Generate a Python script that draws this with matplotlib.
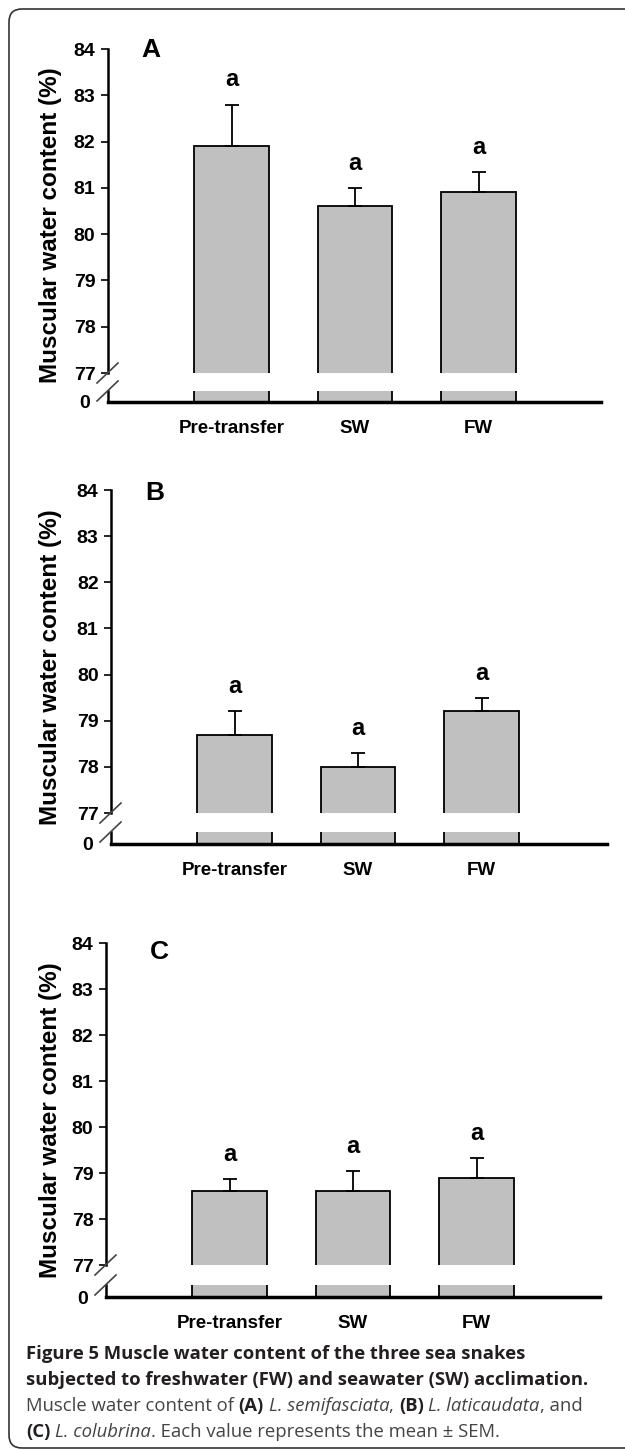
import matplotlib
matplotlib.use('Agg')
import matplotlib.pyplot as plt
from matplotlib.patches import FancyBboxPatch
from matplotlib.lines import Line2D
from matplotlib.transforms import IdentityTransform

# ---------------- data ----------------
categories = ['Pre-transfer', 'SW', 'FW']
panel_labels = ['A', 'B', 'C']
means_A = [81.9, 80.6, 80.9]
sem_A = [0.9, 0.4, 0.45]
means_B = [78.7, 78.0, 79.2]
sem_B = [0.5, 0.3, 0.3]
means_C = [78.6, 78.6, 78.9]
sem_C = [0.27, 0.45, 0.43]
letters_A = ['a', 'a', 'a']
letters_B = ['a', 'a', 'a']
letters_C = ['a', 'a', 'a']
upper_ticks = [77, 78, 79, 80, 81, 82, 83, 84]
lower_ticks = [0]
ylabel_text = 'Muscular water content (%)'
caption_line1 = 'Figure 5 Muscle water content of the three sea snakes'
caption_line2 = 'subjected to freshwater (FW) and seawater (SW) acclimation.'
caption_line3 = [('Muscle water content of ', 'normal', 'normal'), ('(A)', 'bold', 'normal'),
                 (' ', 'normal', 'normal'), ('L. semifasciata', 'normal', 'italic'),
                 (', ', 'normal', 'normal'), ('(B)', 'bold', 'normal'), (' ', 'normal', 'normal'),
                 ('L. laticaudata', 'normal', 'italic'), (', and', 'normal', 'normal')]
caption_line4 = [('(C)', 'bold', 'normal'), (' ', 'normal', 'normal'),
                 ('L. colubrina', 'normal', 'italic'),
                 ('. Each value represents the mean \u00b1 SEM.', 'normal', 'normal')]

# ---------------- layout ----------------
W, H = 625, 1449
fig = plt.figure(figsize=(W / 100, H / 100), dpi=100)
fig.patch.set_facecolor('white')

FONT = 'Liberation Sans'
CAPFONT = 'Open Sans'
BAR_COLOR = '#c0c0c0'
SPACING = 123.5

def fx(px):
    return px / W

def fy(py):
    return 1 - py / H

panels = [
    dict(ax_x=108, right=601, y84=49, y77=373, yseg=391, yzero=402, lab=(141, 57),
         means=means_A, sem=sem_A, letters=letters_A),
    dict(ax_x=111, right=607, y84=490, y77=813, yseg=832, yzero=844, lab=(145, 500),
         means=means_B, sem=sem_B, letters=letters_B),
    dict(ax_x=106, right=600, y84=943, y77=1265, yseg=1285, yzero=1297, lab=(150, 959),
         means=means_C, sem=sem_C, letters=letters_C),
]

for p, plabel in zip(panels, panel_labels):
    x = list(range(len(categories)))
    width_frac = fx(p['right']) - fx(p['ax_x'])
    xmax = (p['right'] - p['ax_x']) / SPACING - 1

    # upper (broken) axis
    ax1 = fig.add_axes([fx(p['ax_x']), fy(p['y77']), width_frac, (p['y77'] - p['y84']) / H])
    ax1.set_ylim(upper_ticks[0], upper_ticks[-1])
    ax1.set_xlim(-1, xmax)
    ax1.bar(x, p['means'], width=0.6, color=BAR_COLOR, edgecolor='black', linewidth=1.3, zorder=2)
    ax1.errorbar(x, p['means'], yerr=[[0] * len(x), p['sem']], fmt='none', ecolor='black',
                 elinewidth=1.3, capsize=5, capthick=1.3, zorder=3)
    for xi, m, s, l in zip(x, p['means'], p['sem'], p['letters']):
        ax1.annotate(l, (xi, m + s), xytext=(0, 13), textcoords='offset points',
                     ha='center', va='baseline', fontsize=17, fontweight='bold', family=FONT)
    for side in ['top', 'right', 'bottom']:
        ax1.spines[side].set_visible(False)
    ax1.spines['left'].set_linewidth(1.8)
    ax1.set_yticks(upper_ticks, labels=[str(t) for t in upper_ticks],
                   fontsize=14, fontweight='bold', family=FONT)
    ax1.set_xticks([])
    ax1.tick_params(axis='y', direction='out', length=5, width=1.2, pad=4)
    ax1.patch.set_alpha(0)

    # lower axis (0 segment)
    ax2 = fig.add_axes([fx(p['ax_x']), fy(p['yzero']), width_frac, (p['yzero'] - p['yseg']) / H])
    ax2.set_ylim(0, 1)
    ax2.set_xlim(-1, xmax)
    ax2.bar(x, p['means'], width=0.6, color=BAR_COLOR, edgecolor='black', linewidth=1.3, zorder=2)
    for side in ['top', 'right']:
        ax2.spines[side].set_visible(False)
    ax2.spines['left'].set_linewidth(1.8)
    ax2.spines['bottom'].set_linewidth(2.5)
    ax2.set_yticks(lower_ticks, labels=[str(t) for t in lower_ticks],
                   fontsize=14, fontweight='bold', family=FONT)
    ax2.tick_params(axis='y', direction='out', length=0, pad=13)
    ax2.set_xticks(x, labels=categories, fontsize=13.5, fontweight='bold', family=FONT)
    ax2.tick_params(axis='x', length=0, pad=13)
    ax2.patch.set_alpha(0)

    # break marks
    for yc in (p['y77'], p['yseg']):
        fig.add_artist(Line2D([p['ax_x'] - 11, p['ax_x'] + 10],
                              [H - (yc + 10), H - (yc - 10)],
                              transform=IdentityTransform(), color='#444444', lw=1.2))

    # panel label
    fig.text(fx(p['lab'][0]), fy(p['lab'][1]), plabel, fontsize=19, fontweight='bold',
             family=FONT, ha='left', va='baseline')
    # y label
    fig.text(fx(51), fy((p['y84'] + p['yzero']) / 2), ylabel_text, rotation=90,
             fontsize=17.5, fontweight='bold', family=FONT, ha='center', va='center')

# ---------------- border ----------------
border = FancyBboxPatch((9, 1), 640, H - 9 - 1, boxstyle='round,pad=0,rounding_size=13',
                        transform=IdentityTransform(), facecolor='none',
                        edgecolor='#333333', linewidth=1.2)
fig.add_artist(border)

# ---------------- caption ----------------
renderer = fig.canvas.get_renderer()

def advance(s, size, weight, style):
    t1 = fig.text(0, 0, '|' + s + '|', fontsize=size, fontweight=weight, fontstyle=style, family=CAPFONT)
    t2 = fig.text(0, 0, '||', fontsize=size, fontweight=weight, fontstyle=style, family=CAPFONT)
    w = t1.get_window_extent(renderer).width - t2.get_window_extent(renderer).width
    t1.remove()
    t2.remove()
    return w

cap_size = 13.3
x0 = 26
fig.text(fx(x0), fy(1359), caption_line1, fontsize=cap_size, fontweight='bold',
         family=CAPFONT, color='#231f20', ha='left', va='baseline')
fig.text(fx(x0), fy(1385), caption_line2, fontsize=cap_size, fontweight='bold',
         family=CAPFONT, color='#231f20', ha='left', va='baseline')

for pieces, ybase in ((caption_line3, 1411), (caption_line4, 1437)):
    xc = x0
    for s, wgt, sty in pieces:
        col = '#231f20' if wgt == 'bold' else '#444444'
        fig.text(fx(xc), fy(ybase), s, fontsize=cap_size, fontweight=wgt, fontstyle=sty,
                 family=CAPFONT, color=col, ha='left', va='baseline')
        xc += advance(s, cap_size, wgt, sty)

fig.savefig('out.png', dpi=100, facecolor='white')
